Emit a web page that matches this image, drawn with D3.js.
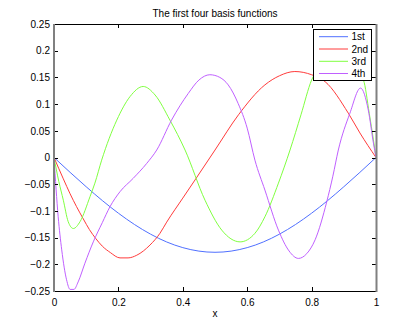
<!DOCTYPE html>
<html>
<head>
<meta charset="utf-8">
<script src="https://cdn.jsdelivr.net/npm/d3@7"></script>
<style>
  html, body { margin: 0; padding: 0; background: #fff; }
  svg { display: block; font-family: "Liberation Sans", Arial, sans-serif; }
</style>
</head>
<body>
<svg id="chart" width="415" height="328"></svg>
<script>
const title = "The first four basis functions";
const xLabel = "x";
const seriesNames = ["1st", "2nd", "3rd", "4th"];
const seriesColors = ["#5070ff", "#ff3b3b", "#80ff40", "#c060ff"];
const xTicks = [0, 0.2, 0.4, 0.6, 0.8, 1];
const yTicks = [-0.25, -0.2, -0.15, -0.1, -0.05, 0, 0.05, 0.1, 0.15, 0.2, 0.25];

const x1 = [0, 0.05, 0.1, 0.15, 0.2, 0.25, 0.3, 0.35, 0.4, 0.45, 0.5, 0.55, 0.6, 0.65, 0.7, 0.75, 0.8, 0.85, 0.9, 0.95, 1];
const y1 = [0, -0.0278, -0.0548, -0.0806, -0.1043, -0.1255, -0.1436, -0.1582, -0.1688, -0.1753, -0.1775, -0.1753, -0.1688, -0.1582, -0.1436, -0.1255, -0.1043, -0.0806, -0.0548, -0.0278, 0];

const x2 = [0, 0.029, 0.05, 0.07, 0.091, 0.11, 0.13, 0.15, 0.175, 0.205, 0.23, 0.257, 0.298, 0.329, 0.35, 0.4, 0.438, 0.5, 0.573, 0.655, 0.7, 0.748, 0.8, 0.842, 0.914, 0.95, 1];
const y2 = [0, -0.040, -0.068, -0.092, -0.115, -0.135, -0.152, -0.166, -0.178, -0.188, -0.188, -0.183, -0.164, -0.142, -0.121, -0.076, -0.042, 0.014, 0.080, 0.136, 0.153, 0.161, 0.155, 0.142, 0.083, 0.046, 0];

const x3 = [0, 0.015, 0.029, 0.044, 0.06, 0.081, 0.112, 0.127, 0.148, 0.195, 0.236, 0.277, 0.314, 0.36, 0.407, 0.469, 0.521, 0.578, 0.624, 0.655, 0.697, 0.733, 0.767, 0.8, 0.84, 0.88, 0.92, 0.961, 0.979, 0.992, 1];
const y3 = [0, -0.045, -0.080, -0.120, -0.133, -0.120, -0.073, -0.048, -0.005, 0.070, 0.114, 0.133, 0.117, 0.070, 0.014, -0.080, -0.136, -0.158, -0.142, -0.111, -0.048, 0.014, 0.080, 0.145, 0.175, 0.185, 0.175, 0.145, 0.083, 0.033, 0];

const x4 = [0, 0.013, 0.024, 0.039, 0.05, 0.062, 0.075, 0.096, 0.122, 0.15, 0.174, 0.205, 0.246, 0.288, 0.319, 0.365, 0.417, 0.45, 0.484, 0.515, 0.541, 0.572, 0.6, 0.624, 0.655, 0.697, 0.73, 0.759, 0.785, 0.811, 0.847, 0.866, 0.883, 0.919, 0.952, 0.976, 0.992, 1];
const y4 = [0, -0.111, -0.173, -0.229, -0.247, -0.247, -0.233, -0.198, -0.158, -0.122, -0.092, -0.064, -0.039, -0.011, 0.014, 0.070, 0.120, 0.145, 0.155, 0.150, 0.136, 0.101, 0.055, -0.005, -0.061, -0.136, -0.175, -0.189, -0.180, -0.154, -0.083, -0.035, 0.014, 0.083, 0.130, 0.089, 0.027, 0];

const seriesX = [x1, x2, x3, x4];
const seriesY = [y1, y2, y3, y4];

const svg = d3.select("#chart");
const L = 54, R = 376, T = 24, B = 291;

const xs = d3.scaleLinear().domain([0, 1]).range([L, R]);
const ys = d3.scaleLinear().domain([-0.25, 0.25]).range([B, T]);

const fmt = v => {
  const s = String(+v.toFixed(2));
  return s.replace("-", "\u2212");
};

// clip
svg.append("defs").append("clipPath").attr("id", "clip")
  .append("rect").attr("x", L).attr("y", T).attr("width", R - L).attr("height", B - T);

// lines
const line = d3.line().x(d => xs(d[0])).y(d => ys(d[1])).curve(d3.curveMonotoneX);
const gLines = svg.append("g").attr("clip-path", "url(#clip)");
seriesX.forEach((xa, i) => {
  const pts = xa.map((xv, j) => [xv, seriesY[i][j]]);
  gLines.append("path").datum(pts)
    .attr("d", line).attr("fill", "none")
    .attr("stroke", seriesColors[i]).attr("stroke-width", 1);
});

// axes (ticks inside)
const tickLen = 4;
const axB = d3.axisBottom(xs).tickValues(xTicks).tickSize(0).tickPadding(8).tickFormat(fmt);
const gB = svg.append("g").attr("transform", `translate(0,${B})`).call(axB);
const axL = d3.axisLeft(ys).tickValues(yTicks).tickSize(0).tickPadding(4).tickFormat(fmt);
const gL = svg.append("g").attr("transform", `translate(${L},0)`).call(axL);
[gB, gL].forEach(g => {
  g.select(".domain").remove();
  g.selectAll("text").attr("font-size", 10).attr("fill", "#000")
    .attr("font-family", "Liberation Sans, Arial, sans-serif");
});

// inner tick marks
const tk = svg.append("g").attr("stroke", "#000").attr("stroke-width", 1);
xTicks.forEach(v => {
  const px = Math.round(xs(v)) + 0.5;
  tk.append("line").attr("x1", px).attr("x2", px).attr("y1", B).attr("y2", B - tickLen);
  tk.append("line").attr("x1", px).attr("x2", px).attr("y1", T).attr("y2", T + tickLen);
});
yTicks.forEach(v => {
  const py = Math.round(ys(v)) + 0.5;
  tk.append("line").attr("x1", L).attr("x2", L + tickLen).attr("y1", py).attr("y2", py);
  tk.append("line").attr("x1", R).attr("x2", R - tickLen).attr("y1", py).attr("y2", py);
});

// frame
svg.append("line").attr("x1", L).attr("x2", R).attr("y1", T + 0.5).attr("y2", T + 0.5).attr("stroke", "#000");
svg.append("line").attr("x1", L).attr("x2", R).attr("y1", B + 0.5).attr("y2", B + 0.5).attr("stroke", "#000");
svg.append("line").attr("x1", L).attr("x2", L).attr("y1", T).attr("y2", B + 1).attr("stroke", "#808080").attr("stroke-width", 2);
svg.append("line").attr("x1", R + 0.5).attr("x2", R + 0.5).attr("y1", T).attr("y2", B + 1).attr("stroke", "#808080").attr("stroke-width", 2);

// title and label
svg.append("text").attr("x", 215).attr("y", 17).attr("text-anchor", "middle")
  .attr("font-size", 10).text(title);
svg.append("text").attr("x", 215).attr("y", 317).attr("text-anchor", "middle")
  .attr("font-size", 10).text(xLabel);

// legend
const lg = svg.append("g");
const lgX = 313, lgY = 29.5, lgW = 58, lgH = 51;
lg.append("rect").attr("x", lgX + 0.5).attr("y", lgY).attr("width", lgW).attr("height", lgH)
  .attr("fill", "#fff").attr("stroke", "#000").attr("stroke-width", 1);
const rowY = [36.7, 49, 61.3, 73.5];
seriesNames.forEach((n, i) => {
  lg.append("line").attr("x1", 319).attr("x2", 348).attr("y1", rowY[i]).attr("y2", rowY[i])
    .attr("stroke", seriesColors[i]).attr("stroke-width", 1);
  lg.append("text").attr("x", 351.5).attr("y", rowY[i] + 3.6).attr("font-size", 10).text(n);
});
</script>
</body>
</html>
